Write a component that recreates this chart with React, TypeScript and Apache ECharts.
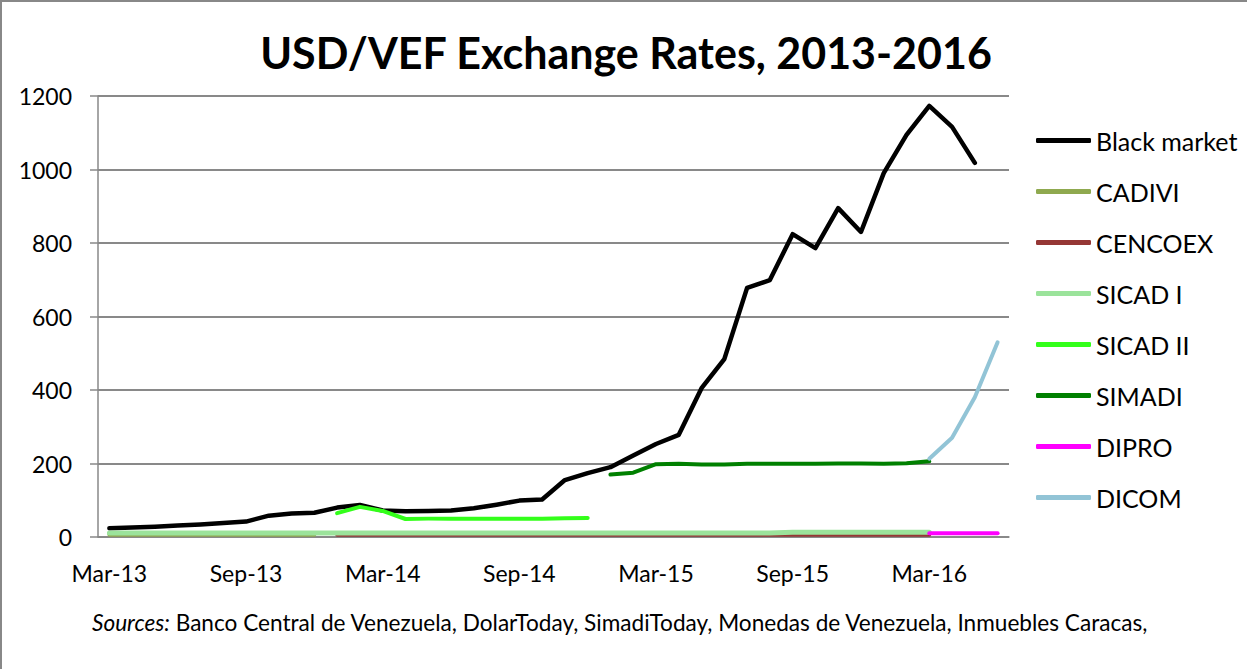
import React, { useEffect, useRef } from "react";
import * as echarts from "echarts";

const months: string[] = [
  "Mar-13", "Apr-13", "May-13", "Jun-13", "Jul-13", "Aug-13", "Sep-13", "Oct-13", "Nov-13", "Dec-13",
  "Jan-14", "Feb-14", "Mar-14", "Apr-14", "May-14", "Jun-14", "Jul-14", "Aug-14", "Sep-14", "Oct-14",
  "Nov-14", "Dec-14", "Jan-15", "Feb-15", "Mar-15", "Apr-15", "May-15", "Jun-15", "Jul-15", "Aug-15",
  "Sep-15", "Oct-15", "Nov-15", "Dec-15", "Jan-16", "Feb-16", "Mar-16", "Apr-16", "May-16", "Jun-16",
];

const N = null;

const blackMarket = [
  24, 26, 28, 31, 34, 38, 42, 58, 64, 66,
  80, 87, 72, 70, 71, 72, 78, 88, 99, 102,
  155, 174, 190, 222, 253, 278, 405, 484, 678, 699,
  824, 786, 895, 830, 990, 1094, 1173, 1116, 1018, N,
];

const cadivi = [
  6.3, 6.3, 6.3, 6.3, 6.3, 6.3, 6.3, 6.3, 6.3, 6.3,
  N, N, N, N, N, N, N, N, N, N,
  N, N, N, N, N, N, N, N, N, N,
  N, N, N, N, N, N, N, N, N, N,
];

const cencoex = [
  N, N, N, N, N, N, N, N, N, N,
  6.3, 6.3, 6.3, 6.3, 6.3, 6.3, 6.3, 6.3, 6.3, 6.3,
  6.3, 6.3, 6.3, 6.3, 6.3, 6.3, 6.3, 6.3, 6.3, 6.3,
  6.3, 6.3, 6.3, 6.3, 6.3, 6.3, 6.3, N, N, N,
];

const sicad1 = [
  11, 11, 11, 11, 11, 11, 11, 11, 11, 11,
  11, 11, 11, 11, 11, 11, 11, 11, 11, 11,
  11, 11, 11, 11, 11, 11, 11, 11, 11, 11,
  13, 13, 13, 13, 13, 13, 13, N, N, N,
];

const sicad2 = [
  N, N, N, N, N, N, N, N, N, N,
  65, 82, 71, 49, 50, 50, 50, 50, 50, 50,
  51, 52, N, N, N, N, N, N, N, N,
  N, N, N, N, N, N, N, N, N, N,
];

const simadi = [
  N, N, N, N, N, N, N, N, N, N,
  N, N, N, N, N, N, N, N, N, N,
  N, N, 170, 175, 198, 199, 197, 197, 199, 199,
  199, 199, 200, 200, 199, 201, 206, N, N, N,
];

const dipro = [
  N, N, N, N, N, N, N, N, N, N,
  N, N, N, N, N, N, N, N, N, N,
  N, N, N, N, N, N, N, N, N, N,
  N, N, N, N, N, N, 10, 10, 10, 10,
];

const dicom = [
  N, N, N, N, N, N, N, N, N, N,
  N, N, N, N, N, N, N, N, N, N,
  N, N, N, N, N, N, N, N, N, N,
  N, N, N, N, N, N, 213, 270, 380, 530,
];

const seriesNames = ["Black market", "CADIVI", "CENCOEX", "SICAD I", "SICAD II", "SIMADI", "DIPRO", "DICOM"];
const seriesData = [blackMarket, cadivi, cencoex, sicad1, sicad2, simadi, dipro, dicom];
const seriesColors = ["#000000", "#8FA94F", "#953735", "#9BE39B", "#33FF1A", "#008000", "#FF00FF", "#92C4D6"];
const seriesWidths = [4.5, 4, 4, 5, 4, 4, 4, 4];

const FONT = "Lato, 'Noto Sans', sans-serif";

export default function App() {
  const ref = useRef<HTMLDivElement>(null);
  useEffect(() => {
    if (!ref.current) return;
    const chart = echarts.init(ref.current, null, { renderer: "svg" });
    chart.setOption({
      animation: false,
      backgroundColor: "#ffffff",
      textStyle: { fontFamily: FONT },
      grid: { left: 98, right: 238, top: 96, bottom: 132, containLabel: false },
      legend: {
        orient: "vertical",
        left: 1036,
        top: 128,
        padding: 0,
        icon: "roundRect",
        itemWidth: 55,
        itemHeight: 5,
        itemGap: 26,
        data: seriesNames,
        textStyle: { fontFamily: FONT, fontSize: 25, color: "#000", lineHeight: 24, padding: [0, 0, 0, 0] },
      },
      xAxis: {
        type: "category",
        data: months,
        boundaryGap: true,
        axisLine: { lineStyle: { color: "#898989", width: 1.5 } },
        axisTick: { interval: 5, length: 8, lineStyle: { color: "#898989", width: 1.5 } },
        axisLabel: { interval: 5, color: "#000", fontSize: 23, fontFamily: FONT, margin: 24 },
        splitLine: { show: false },
      },
      yAxis: {
        type: "value",
        min: 0,
        max: 1200,
        interval: 200,
        axisLine: { show: true, lineStyle: { color: "#898989", width: 1.5 } },
        axisTick: { show: true, length: 8, lineStyle: { color: "#898989", width: 1.5 } },
        axisLabel: { color: "#000", fontSize: 23, fontFamily: FONT, margin: 26, formatter: (v: number) => String(v) },
        splitLine: { show: true, lineStyle: { color: "#898989", width: 2 } },
      },
      series: seriesNames.map((name, i) => ({
        name,
        type: "line",
        data: seriesData[i],
        color: seriesColors[i],
        showSymbol: false,
        symbol: "none",
        connectNulls: false,
        lineStyle: { color: seriesColors[i], width: seriesWidths[i], cap: "round", join: "round" },
        emphasis: { disabled: true },
      })),
      graphic: [
        {
          type: "rect",
          shape: { x: 1, y: 1, width: 1300, height: 720 },
          style: { fill: "none", stroke: "#888888", lineWidth: 2 },
          silent: true,
        },
        {
          type: "text",
          x: 626,
          y: 52,
          style: {
            text: "USD/VEF Exchange Rates, 2013-2016",
            font: `bold 43px ${FONT}`,
            fill: "#000",
            textAlign: "center",
            textVerticalAlign: "middle",
          },
        },
        {
          type: "text",
          x: 92,
          y: 622,
          style: {
            text: "{i|Sources:} Banco Central de Venezuela, DolarToday, SimadiToday, Monedas de Venezuela, Inmuebles Caracas,",
            font: `22.6px ${FONT}`,
            fill: "#000",
            textAlign: "left",
            textVerticalAlign: "middle",
            rich: { i: { fontStyle: "italic", fontSize: 22.6, fontFamily: FONT } },
          },
        },
      ],
    });
    return () => chart.dispose();
  }, []);
  return (
    <div
      ref={ref}
      style={{ position: "fixed", left: 0, top: 0, width: 1247, height: 669, background: "#fff" }}
    />
  );
}
